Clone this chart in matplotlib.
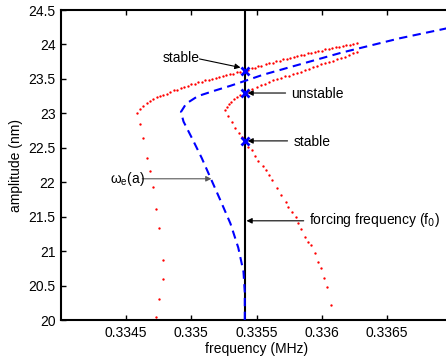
import matplotlib
matplotlib.use('Agg')
import matplotlib.pyplot as plt

plt.rcParams['font.family'] = ['Liberation Sans', 'DejaVu Sans']
plt.rcParams['font.size'] = 10

# backbone curve omega_e(a)
backbone_freq = [0.33541, 0.33541, 0.33540, 0.33536, 0.33530, 0.33522, 0.33515,
                 0.33508, 0.33501, 0.33494, 0.33492, 0.33496, 0.33505, 0.33518,
                 0.33530, 0.33541, 0.33555, 0.33570, 0.33585, 0.33600, 0.33615,
                 0.33630, 0.33645, 0.33660, 0.33675, 0.33690, 0.33700, 0.33710]
backbone_amp = [20.00, 20.40, 20.70, 21.05, 21.40, 21.75, 22.05,
                22.35, 22.62, 22.88, 23.02, 23.14, 23.25, 23.33,
                23.40, 23.47, 23.56, 23.64, 23.72, 23.80, 23.88,
                23.95, 24.02, 24.09, 24.15, 24.21, 24.25, 24.29]

# response, left branch + upper stable branch
upper_freq = [0.334731, 0.334754, 0.334785, 0.334785, 0.334754, 0.334731, 0.334708,
              0.334685, 0.334662, 0.334631, 0.334608,
              0.334585, 0.334608, 0.334631, 0.334662, 0.334685, 0.334708, 0.334738,
              0.334762, 0.334785, 0.334815, 0.334838, 0.334869, 0.334892, 0.334923,
              0.334946, 0.334977, 0.335000, 0.335031, 0.335054, 0.335085, 0.335108,
              0.335138, 0.335162, 0.335192, 0.335215, 0.335246, 0.335269, 0.335300,
              0.335323, 0.335354, 0.335377, 0.335408, 0.335431, 0.335462, 0.335485,
              0.335515, 0.335538, 0.335569, 0.335592, 0.335623, 0.335646, 0.335677,
              0.335700, 0.335731, 0.335754, 0.335785, 0.335808, 0.335838, 0.335862,
              0.335892, 0.335915, 0.335946, 0.335969, 0.336000, 0.336023, 0.336054,
              0.336077, 0.336108, 0.336131, 0.336162, 0.336185, 0.336215, 0.336238,
              0.336269]
upper_amp = [20.04, 20.31, 20.60, 20.87, 21.34, 21.61, 21.93,
             22.16, 22.35, 22.64, 22.85,
             23.005, 23.056, 23.107, 23.150, 23.179, 23.201, 23.230,
             23.252, 23.266, 23.288, 23.303, 23.332, 23.346, 23.368,
             23.382, 23.404, 23.419, 23.433, 23.448, 23.462, 23.477,
             23.491, 23.499, 23.520, 23.528, 23.542, 23.557, 23.571,
             23.578, 23.593, 23.600, 23.615, 23.629, 23.651, 23.665,
             23.680, 23.687, 23.709, 23.724, 23.738, 23.753, 23.767,
             23.782, 23.796, 23.803, 23.818, 23.832, 23.840, 23.854,
             23.869, 23.876, 23.890, 23.898, 23.912, 23.927, 23.941,
             23.948, 23.963, 23.970, 23.978, 23.985, 23.999, 24.007,
             24.014]

# response, lower-right stable branch (bottom to turning point)
lower_freq = [0.336069, 0.336038, 0.336015, 0.335992, 0.335969, 0.335946, 0.335915,
              0.335892, 0.335869, 0.335838, 0.335815, 0.335800, 0.335769, 0.335738,
              0.335723, 0.335685, 0.335654, 0.335615, 0.335592, 0.335569, 0.335546,
              0.335515, 0.335492, 0.335469, 0.335438, 0.335415, 0.335392, 0.335362,
              0.335338, 0.335315, 0.335285]
lower_amp = [20.218, 20.480, 20.610, 20.755, 20.843, 20.973, 21.089,
             21.133, 21.206, 21.322, 21.409, 21.496, 21.568, 21.641,
             21.713, 21.815, 21.917, 22.033, 22.105, 22.178, 22.236,
             22.308, 22.381, 22.468, 22.512, 22.584, 22.657, 22.715,
             22.787, 22.874, 22.962]

# response, unstable branch (turning point upwards)
unstable_freq = [0.335262, 0.335277, 0.335292, 0.335308, 0.335331, 0.335354, 0.335377,
                 0.335408, 0.335438, 0.335469, 0.335500, 0.335531, 0.335562, 0.335592,
                 0.335623, 0.335654, 0.335685, 0.335715, 0.335746, 0.335777, 0.335808,
                 0.335838, 0.335869, 0.335900, 0.335931, 0.335962, 0.335992, 0.336023,
                 0.336054, 0.336085, 0.336115, 0.336146, 0.336177, 0.336208, 0.336238,
                 0.336269]
unstable_amp = [23.049, 23.092, 23.136, 23.165, 23.208, 23.237, 23.266,
                23.295, 23.324, 23.353, 23.382, 23.411, 23.433, 23.455,
                23.477, 23.499, 23.513, 23.535, 23.549, 23.564, 23.586,
                23.600, 23.622, 23.644, 23.673, 23.687, 23.716, 23.731,
                23.745, 23.760, 23.782, 23.803, 23.825, 23.847, 23.869,
                23.890]

f0 = 0.335408
cross_amp = [23.615, 23.295, 22.60]

xticks = [0.3345, 0.335, 0.3355, 0.336, 0.3365]
xticklabels = ['0.3345', '0.335', '0.3355', '0.336', '0.3365']
yticks = [20, 20.5, 21, 21.5, 22, 22.5, 23, 23.5, 24, 24.5]
yticklabels = ['20', '20.5', '21', '21.5', '22', '22.5', '23', '23.5', '24', '24.5']

fig = plt.figure(figsize=(4.46, 3.6), dpi=100)
ax = fig.add_axes([0.1368, 0.1111, 0.8767, 0.8611])

ax.axvline(f0, color='k', lw=1.5, zorder=2)
ax.plot(backbone_freq, backbone_amp, color='b', lw=1.5, ls=(0, (4, 2.6)), zorder=3)
for fr, am in [(upper_freq, upper_amp), (lower_freq, lower_amp), (unstable_freq, unstable_amp)]:
    ax.plot(fr, am, ls='none', marker='o', ms=1.7, mew=0, color='r', zorder=4)
ax.plot([f0] * 3, cross_amp, ls='none', marker='x', ms=6, mew=2, color='b', zorder=5)

# annotations
arr = dict(arrowstyle='-|>', color='k', lw=0.8, mutation_scale=8, shrinkA=0, shrinkB=0)
ax.annotate('', xy=(0.335377, 23.665), xytext=(0.335062, 23.79), arrowprops=arr)
ax.text(0.334777, 23.80, 'stable', va='center', ha='left')
ax.annotate('', xy=(0.335431, 23.295), xytext=(0.335723, 23.295), arrowprops=arr)
ax.text(0.335762, 23.285, 'unstable', va='center', ha='left')
ax.annotate('', xy=(0.335431, 22.60), xytext=(0.335738, 22.60), arrowprops=arr)
ax.text(0.335785, 22.585, 'stable', va='center', ha='left')
ax.annotate('', xy=(0.335423, 21.44), xytext=(0.335862, 21.44), arrowprops=arr)
ax.text(0.335900, 21.45, 'forcing frequency (f$_0$)', va='center', ha='left')
arr2 = dict(arr, color='0.35')
ax.annotate('', xy=(0.335154, 22.05), xytext=(0.334623, 22.05), arrowprops=arr2)
ax.text(0.334377, 22.04, '$\\mathregular{\\omega_e}$(a)', va='center', ha='left')

ax.set_xlim(0.334, 0.337)
ax.set_ylim(20, 24.5)
ax.set_xticks(xticks)
ax.set_xticklabels(xticklabels)
ax.set_yticks(yticks)
ax.set_yticklabels(yticklabels)
ax.tick_params(direction='in', length=3.5, width=1, top=True, right=True, pad=4)
for s in ax.spines.values():
    s.set_linewidth(1.5)
ax.set_xlabel('frequency (MHz)', labelpad=2)
ax.set_ylabel('amplitude (nm)', labelpad=4)

fig.savefig('out.png', dpi=100)
